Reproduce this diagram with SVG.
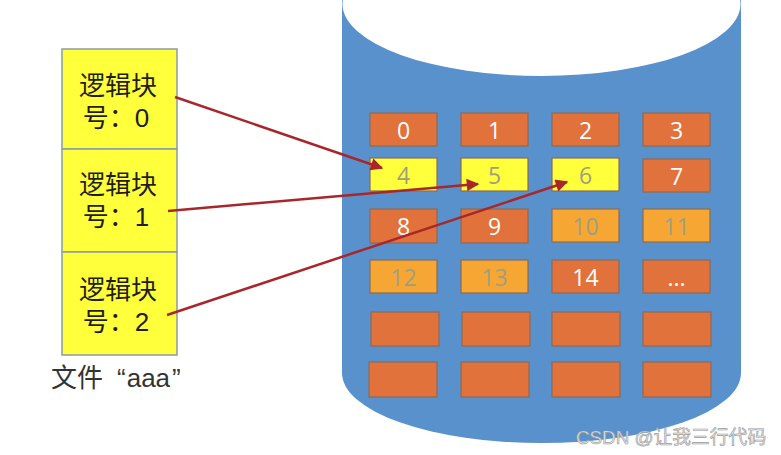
<svg xmlns="http://www.w3.org/2000/svg" width="781" height="455" viewBox="0 0 781 455">
<defs>
<style>
.cjk{font-family:"Liberation Sans","Noto Sans CJK SC",sans-serif;}
.fb{fill:#FFFF3C;stroke:#8A9AA8;stroke-width:1.5;}
.ftx{font-size:26px;fill:#1E1E1E;text-anchor:middle;}
.b{stroke:#8C6A55;stroke-width:1.2;}
.o{fill:#E2723B;}
.lo{fill:#F6A733;}
.y{fill:#FFFF3C;}
.n{font-family:"Open Sans","Liberation Sans",sans-serif;font-size:23px;text-anchor:middle;dominant-baseline:central;}
.w{fill:#FFFFFF;}
.g{fill:#A09E80;}
.arr{stroke:#A8272B;stroke-width:2.5;fill:none;marker-end:url(#ah);}
</style>
<marker id="ah" viewBox="0 0 10 10" refX="9" refY="5" markerWidth="5.5" markerHeight="5" orient="auto" markerUnits="strokeWidth">
<path d="M0,0 L10,5 L0,10 z" fill="#A8272B"/>
</marker>
</defs>
<rect width="781" height="455" fill="#FFFFFF"/>

<g id="disk">
<path d="M342,0 L342,373 A199.5,70 0 0 0 741,373 L741,0 Z" fill="#5891CB"/>
<ellipse cx="541.5" cy="4" rx="199" ry="72" fill="#FFFFFF"/>
</g>

<g id="blocks">
<g id="b0"><rect class="o b" x="370" y="113" width="67" height="33"/><text class="n w" x="403.5" y="129.5">0</text></g>
<g id="b1"><rect class="o b" x="461" y="113" width="67" height="33"/><text class="n w" x="494.5" y="129.5">1</text></g>
<g id="b2"><rect class="o b" x="552" y="113" width="67" height="33"/><text class="n w" x="585.5" y="129.5">2</text></g>
<g id="b3"><rect class="o b" x="643" y="113" width="67" height="33"/><text class="n w" x="676.5" y="129.5">3</text></g>

<g id="b4"><rect class="y b" x="370" y="158" width="67" height="33"/><text class="n g" x="403.5" y="174.5">4</text></g>
<g id="b5"><rect class="y b" x="461" y="158" width="67" height="33"/><text class="n g" x="494.5" y="174.5">5</text></g>
<g id="b6"><rect class="y b" x="552" y="158" width="67" height="33"/><text class="n g" x="585.5" y="174.5">6</text></g>
<g id="b7"><rect class="o b" x="643" y="159" width="67" height="33"/><text class="n w" x="676.5" y="175.5">7</text></g>

<g id="b8"><rect class="o b" x="370" y="209" width="67" height="34"/><text class="n w" x="403.5" y="226">8</text></g>
<g id="b9"><rect class="o b" x="461" y="209" width="67" height="34"/><text class="n w" x="494.5" y="226">9</text></g>
<g id="b10"><rect class="lo b" x="552" y="209" width="67" height="33"/><text class="n g" x="585.5" y="225.5">10</text></g>
<g id="b11"><rect class="lo b" x="643" y="209" width="67" height="33"/><text class="n g" x="676.5" y="225.5">11</text></g>

<g id="b12"><rect class="lo b" x="370" y="260" width="67" height="33"/><text class="n g" x="403.5" y="276.5">12</text></g>
<g id="b13"><rect class="lo b" x="461" y="260" width="67" height="33"/><text class="n g" x="494.5" y="276.5">13</text></g>
<g id="b14"><rect class="o b" x="552" y="260" width="67" height="33"/><text class="n w" x="585.5" y="276.5">14</text></g>
<g id="bmore"><rect class="o b" x="643" y="260" width="67" height="33"/><text class="n w" x="676.5" y="276.5">...</text></g>

<g id="b16"><rect class="o b" x="371" y="312" width="68" height="34"/></g>
<g id="b17"><rect class="o b" x="462" y="312" width="68" height="34"/></g>
<g id="b18"><rect class="o b" x="552" y="312" width="68" height="34"/></g>
<g id="b19"><rect class="o b" x="643" y="312" width="68" height="34"/></g>

<g id="b20"><rect class="o b" x="369" y="362" width="68" height="35"/></g>
<g id="b21"><rect class="o b" x="461" y="362" width="68" height="35"/></g>
<g id="b22"><rect class="o b" x="552" y="362" width="68" height="35"/></g>
<g id="b23"><rect class="o b" x="643" y="362" width="68" height="35"/></g>
</g>

<g id="file">
<g id="lb0"><rect class="fb" x="62" y="49" width="115" height="100"/>
<text class="cjk ftx" x="118" y="95">逻辑块</text><text class="cjk ftx" x="116" y="127">号：0</text></g>
<g id="lb1"><rect class="fb" x="62" y="149" width="115" height="103"/>
<text class="cjk ftx" x="118" y="194">逻辑块</text><text class="cjk ftx" x="116" y="226">号：1</text></g>
<g id="lb2"><rect class="fb" x="62" y="252" width="115" height="103"/>
<text class="cjk ftx" x="118" y="299">逻辑块</text><text class="cjk ftx" x="116" y="331">号：2</text></g>
<text class="cjk" x="51" y="387" font-size="26" fill="#333">文件<tspan dx="14">“</tspan><tspan dx="1">aaa</tspan><tspan dx="2">”</tspan></text>
</g>

<g id="connectors">
<line class="arr" x1="175" y1="97" x2="382" y2="168"/>
<line class="arr" x1="168" y1="211" x2="478" y2="184"/>
<line class="arr" x1="167" y1="315" x2="567" y2="182"/>
</g>

<text class="cjk" x="576" y="444" font-size="18.8" fill="#E8E8E8" stroke="#9A9A9A" stroke-width="0.6">CSDN @让我三行代码</text>
</svg>
